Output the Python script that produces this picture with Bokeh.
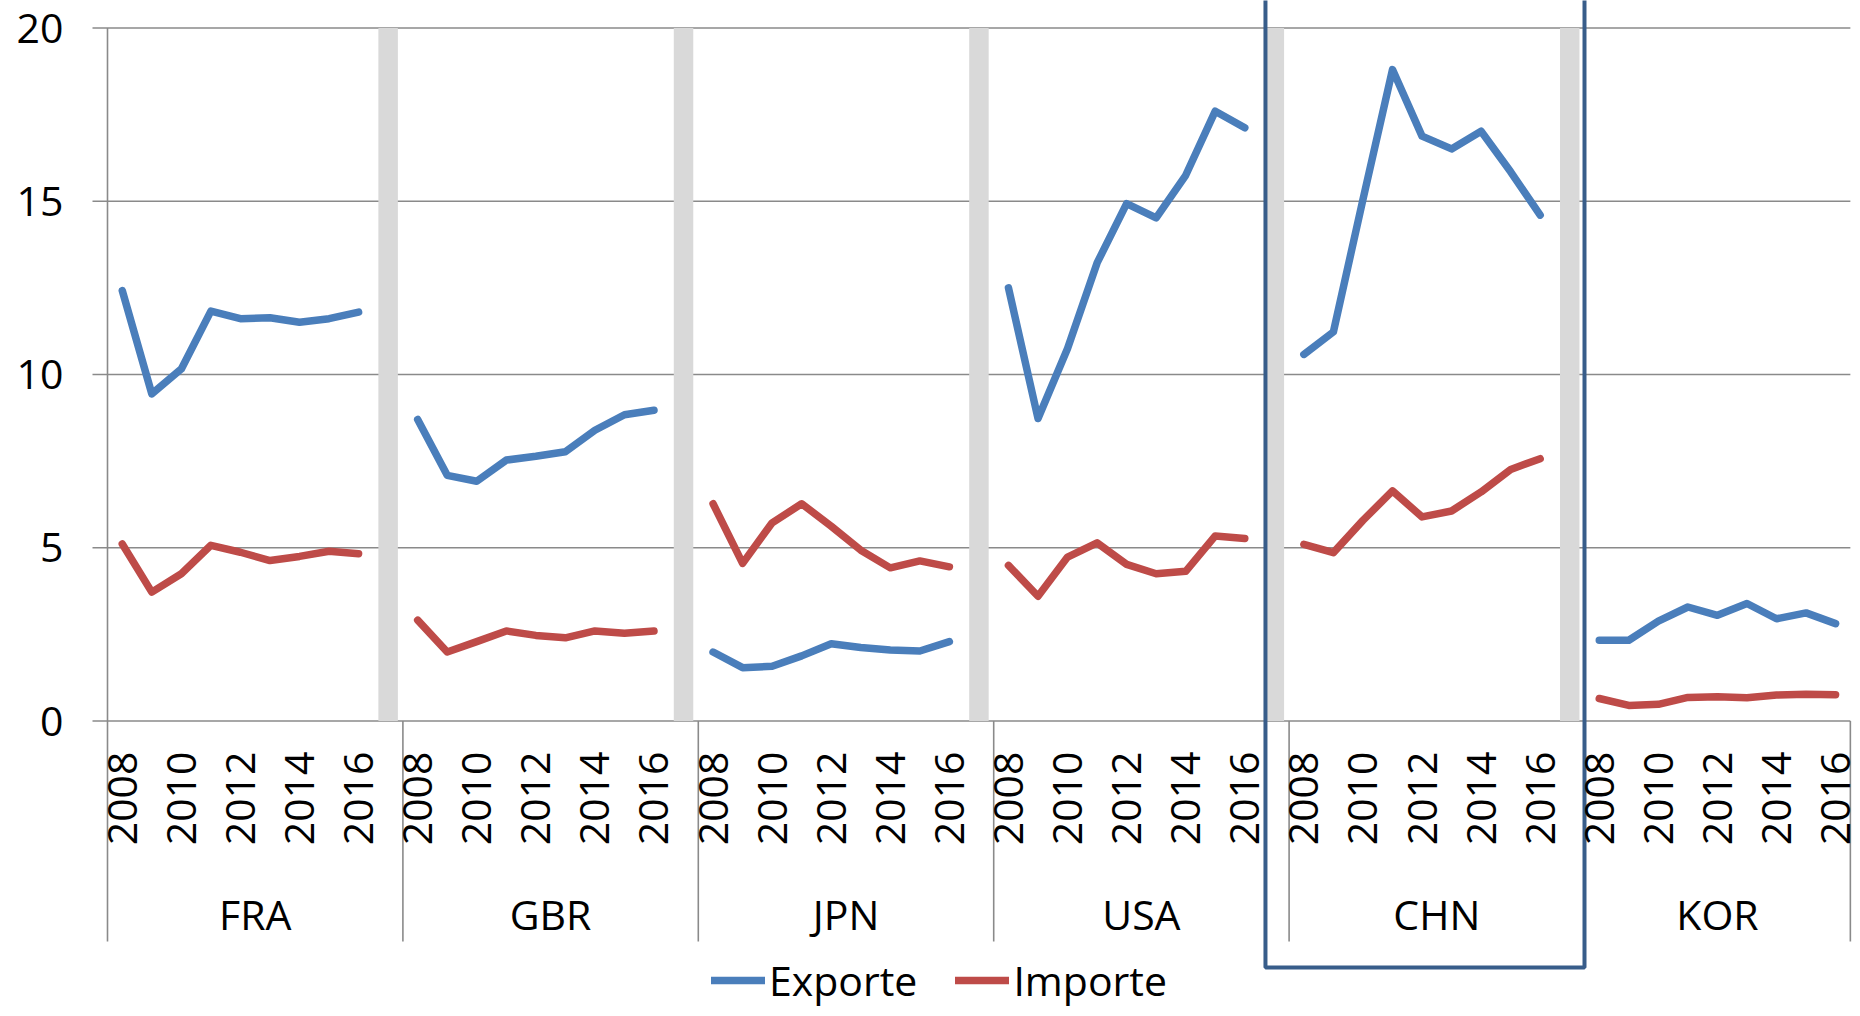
import math
from bokeh.plotting import figure
from bokeh.models import Range1d, Legend, LegendItem
from bokeh.core.properties import value
from bokeh.embed import file_html
from bokeh.resources import INLINE

# ---------------- data ----------------
countries = ["FRA", "GBR", "JPN", "USA", "CHN", "KOR"]
years = [2008, 2009, 2010, 2011, 2012, 2013, 2014, 2015, 2016]
tick_years = ["2008", "2010", "2012", "2014", "2016"]
y_ticks = [0, 5, 10, 15, 20]
separator_height = 20

exp_FRA = [12.42, 9.44, 10.16, 11.83, 11.61, 11.64, 11.51, 11.61, 11.80]
imp_FRA = [5.11, 3.72, 4.25, 5.07, 4.87, 4.63, 4.75, 4.90, 4.83]
exp_GBR = [8.70, 7.09, 6.92, 7.53, 7.64, 7.77, 8.39, 8.84, 8.97]
imp_GBR = [2.91, 1.99, 2.29, 2.60, 2.47, 2.40, 2.60, 2.53, 2.60]
exp_JPN = [1.99, 1.54, 1.58, 1.88, 2.23, 2.12, 2.05, 2.02, 2.29]
imp_JPN = [6.27, 4.55, 5.72, 6.27, 5.62, 4.93, 4.42, 4.62, 4.45]
exp_USA = [12.50, 8.73, 10.75, 13.22, 14.93, 14.52, 15.75, 17.60, 17.12]
imp_USA = [4.49, 3.60, 4.73, 5.14, 4.52, 4.25, 4.32, 5.34, 5.27]
exp_CHN = [10.58, 11.23, 15.05, 18.80, 16.88, 16.51, 17.02, 15.85, 14.60]
imp_CHN = [5.10, 4.86, 5.79, 6.64, 5.89, 6.06, 6.61, 7.26, 7.57]
exp_KOR = [2.33, 2.33, 2.88, 3.29, 3.05, 3.39, 2.95, 3.12, 2.81]
imp_KOR = [0.65, 0.45, 0.48, 0.68, 0.70, 0.67, 0.75, 0.77, 0.76]

exports = [exp_FRA, exp_GBR, exp_JPN, exp_USA, exp_CHN, exp_KOR]
imports = [imp_FRA, imp_GBR, imp_JPN, imp_USA, imp_CHN, imp_KOR]

# ---------------- layout ----------------
W, H = 1852, 1008
PLOT_L = 107               # canvas px of the category axis start
SLOT = 29.54               # px per category slot
Y0 = 720.5                 # canvas px of value 0
UNIT = 34.65               # px per value unit
GROUP = 10                 # slots per country group (9 years + separator)
n_slots = GROUP * (len(countries) - 1) + len(years)

xs = -PLOT_L / SLOT
xe = xs + W / SLOT
ye = Y0 / UNIT
ys = (Y0 - H) / UNIT


def px_x(cx):
    return (cx - PLOT_L) / SLOT


def px_y(cy):
    return (Y0 - cy) / UNIT


FONT_NAME = "Open Sans"
FONT = value(FONT_NAME)
FS = "41px"
BLUE = "#4A7EBB"
RED = "#BE4B48"
GRID = "#8A8A8A"

p = figure(width=W, height=H, x_range=Range1d(xs, xe), y_range=Range1d(ys, ye),
           output_backend="svg", toolbar_location=None, min_border=0,
           x_axis_location=None, y_axis_location=None)
p.grid.visible = False
p.outline_line_color = None
p.background_fill_color = "white"

# gridlines (with outside tick marks)
p.segment(x0=[px_x(92)] * len(y_ticks), x1=[n_slots] * len(y_ticks),
          y0=y_ticks, y1=y_ticks, line_color=GRID, line_width=1.6)

# gray separator columns
sep_x = [g * GROUP + len(years) + 0.5 for g in range(len(countries) - 1)]
p.vbar(x=sep_x, top=[separator_height] * len(sep_x), bottom=0, width=0.66,
       fill_color="#D9D9D9", line_color=None)

# value axis line and category dividers
p.segment(x0=[0], x1=[0], y0=[y_ticks[-1]], y1=[px_y(941)], line_color=GRID, line_width=1.6)
div_x = [g * GROUP for g in range(1, len(countries))] + [n_slots]
p.segment(x0=div_x, x1=div_x, y0=[0] * len(div_x), y1=[px_y(941)] * len(div_x),
          line_color=GRID, line_width=1.6)

# series
exp_renderers = []
imp_renderers = []
for g, c in enumerate(countries):
    xx = [g * GROUP + i + 0.5 for i in range(len(years))]
    re = p.line(xx, exports[g], line_color=BLUE, line_width=7.5,
                line_cap="round", line_join="round")
    ri = p.line(xx, imports[g], line_color=RED, line_width=7.5,
                line_cap="round", line_join="round")
    exp_renderers.append(re)
    imp_renderers.append(ri)

# highlight box around CHN
chn = countries.index("CHN")
p.quad(left=[chn * GROUP - 0.8], right=[chn * GROUP + GROUP],
       bottom=[px_y(967)], top=[ye + 1], fill_color=None,
       line_color="#385D8A", line_width=4)

# value labels
p.text(x=[px_x(63)] * len(y_ticks), y=y_ticks, text=[str(v) for v in y_ticks],
       text_align="right", text_baseline="middle", text_font=FONT,
       text_font_size=FS, text_color="black")

# year labels
yx, yt = [], []
for g, c in enumerate(countries):
    for t in tick_years:
        yx.append(g * GROUP + years.index(int(t)) + 0.5)
        yt.append(t)
p.text(x=yx, y=[px_y(751)] * len(yx), text=yt, angle=math.pi / 2,
       text_align="right", text_baseline="middle", text_font=FONT,
       text_font_size=FS, text_color="black", text_line_height=0.8)

# country labels, centred on each group's span of slots
cx = []
for g in range(len(countries)):
    start = g * GROUP
    end = min(start + GROUP, n_slots)
    cx.append((start + end) / 2)
p.text(x=cx, y=[px_y(913)] * len(cx), text=countries, text_align="center",
       text_baseline="middle", text_font=FONT, text_font_size=FS, text_color="black")

legend = Legend(items=[LegendItem(label="Exporte", renderers=[exp_renderers[0]]),
                       LegendItem(label="Importe", renderers=[imp_renderers[0]])],
                orientation="horizontal", location=(711, 0),
                glyph_width=54, label_standoff=4, spacing=38, padding=0, margin=0,
                border_line_color=None, background_fill_alpha=0,
                label_text_font=FONT_NAME, label_text_font_size=FS, label_text_color="black")
p.add_layout(legend, "center")

open("out.html", "w").write(file_html(p, INLINE))
